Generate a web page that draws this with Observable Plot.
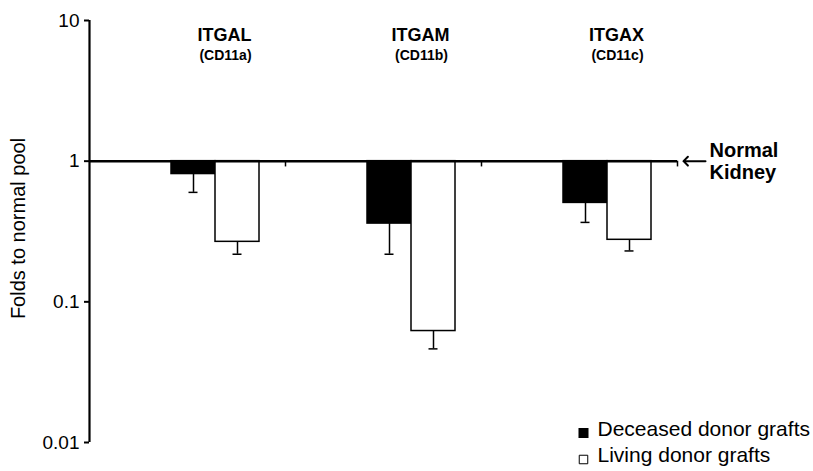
<!DOCTYPE html>
<html><head><meta charset="utf-8">
<script src="https://cdn.jsdelivr.net/npm/d3@7"></script>
<script src="https://cdn.jsdelivr.net/npm/@observablehq/plot@0.6"></script>
<style>body{margin:0;background:#fff;} #chart{width:813px;height:471px;}</style>
</head><body><div id="chart"></div>
<script>
const genes = ["ITGAL", "ITGAM", "ITGAX"];
const cdNames = ["(CD11a)", "(CD11b)", "(CD11c)"];
const seriesNames = ["Deceased donor grafts", "Living donor grafts"];
const deceasedValues = [0.81, 0.36, 0.505];
const deceasedLower = [0.60, 0.218, 0.367];
const livingValues = [0.267, 0.062, 0.276];
const livingLower = [0.218, 0.0463, 0.230];
const normalLevel = 1;
const yTicks = [0.01, 0.1, 1, 10];
const annotation = ["Normal\nKidney"];
const yLabel = "Folds to normal pool";

const deceased = genes.map((g, i) => ({gene: g, value: deceasedValues[i], low: deceasedLower[i]}));
const living = genes.map((g, i) => ({gene: g, value: livingValues[i], low: livingLower[i]}));
const font = "'Liberation Sans', Arial, Helvetica, sans-serif";
const half = 98; // half of a gene band in px

const chart = Plot.plot({
  width: 813, height: 471,
  marginLeft: 89, marginRight: 136, marginTop: 20, marginBottom: 29,
  style: {fontFamily: font, background: "white", color: "black"},
  x: {domain: genes, padding: 0, axis: null},
  y: {type: "log", domain: [0.01, 10], axis: null},
  marks: [
    Plot.axisY({ticks: yTicks, tickFormat: d => String(d), tickSize: 5, tickPadding: 5, fontSize: 19, strokeWidth: 2, label: null}),
    Plot.ruleX([genes[0]], {x: d => d, dx: -half, y1: () => 0.01, y2: () => 10, strokeWidth: 2.2}),
    Plot.barY(deceased, {x: "gene", y1: () => normalLevel, y2: "value", fill: "black", stroke: "black", strokeWidth: 1.5, insetLeft: 82, insetRight: 70}),
    Plot.barY(living, {x: "gene", y1: () => normalLevel, y2: "value", fill: "white", stroke: "black", strokeWidth: 1.5, insetLeft: 126, insetRight: 26}),
    Plot.ruleX(deceased, {x: "gene", y1: "value", y2: "low", dx: 6, strokeWidth: 1.5}),
    Plot.ruleX(living, {x: "gene", y1: "value", y2: "low", dx: 50, strokeWidth: 1.5}),
    Plot.tickY(deceased, {x: "gene", y: "low", insetLeft: 99.5, insetRight: 87.5, strokeWidth: 1.5}),
    Plot.tickY(living, {x: "gene", y: "low", insetLeft: 143.5, insetRight: 43.5, strokeWidth: 1.5}),
    Plot.ruleY([normalLevel], {strokeWidth: 2.5}),
    Plot.ruleX(genes, {x: d => d, dx: half, y1: () => normalLevel, y2: () => 0.91, strokeWidth: 1.5}),
    Plot.text(genes, {x: d => d, frameAnchor: "top", lineAnchor: "middle", dx: 37, dy: 15, fontSize: 18, fontWeight: "bold"}),
    Plot.text(cdNames, {x: (d, i) => genes[i], frameAnchor: "top", lineAnchor: "middle", dx: 38, dy: 35, fontSize: 14, fontWeight: "bold"}),
    Plot.vector(annotation, {y: () => normalLevel, frameAnchor: "right", dx: 28, rotate: -90, length: 22, anchor: "start", strokeWidth: 2}),
    Plot.text(annotation, {y: () => normalLevel, frameAnchor: "right", dx: 32, textAnchor: "start", lineAnchor: "middle", fontSize: 20, fontWeight: "bold", lineHeight: 1.08}),
    Plot.text([yLabel], {frameAnchor: "left", textAnchor: "middle", lineAnchor: "middle", rotate: -90, dx: -71, dy: -3, fontSize: 20}),
    Plot.dot([seriesNames[0]], {frameAnchor: "bottom-left", dx: 494, dy: -9.5, symbol: "square", r: 4.8, fill: "black", stroke: "black"}),
    Plot.dot([seriesNames[1]], {frameAnchor: "bottom-left", dx: 494, dy: 17, symbol: "square", r: 4.8, fill: "white", stroke: "black", strokeWidth: 1}),
    Plot.text([seriesNames[0]], {frameAnchor: "bottom-left", dx: 508, dy: -13.4, textAnchor: "start", lineAnchor: "middle", fontSize: 21}),
    Plot.text([seriesNames[1]], {frameAnchor: "bottom-left", dx: 508, dy: 12.6, textAnchor: "start", lineAnchor: "middle", fontSize: 21})
  ]
});
document.getElementById("chart").appendChild(chart);
</script>
</body></html>
